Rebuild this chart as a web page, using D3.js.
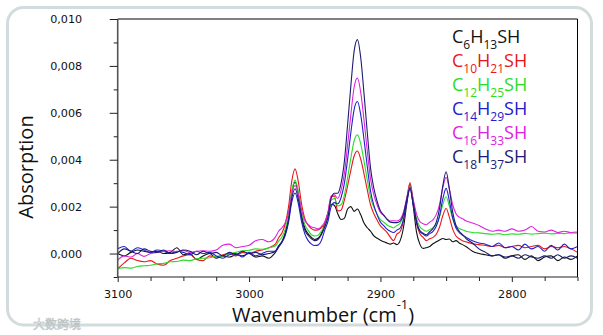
<!DOCTYPE html>
<html><head><meta charset="utf-8">
<script src="https://cdn.jsdelivr.net/npm/d3@7"></script>
<style>body{margin:0;background:#fff}svg{display:block}</style>
</head><body><svg id="c" width="603" height="335"></svg>
<script>
// wavenumber grid (cm-1)
const wavenumbers = [3100,3095,3090,3085,3080,3075,3070,3065,3060,3055,3050,3045,3040,3035,3030,3025,3020,3015,3010,3005,3000,2995,2990,2985,2980,
2977.5,2975,2972.5,2970,2967.5,2965,2962.5,2960,2957.5,2955,2952.5,2950,2947.5,2945,2942.5,2940,2937.5,2935,2932.5,2930,2927.5,2925,2922.5,2920,2917.5,2915,2912.5,2910,2907.5,2905,2902.5,2900,2897.5,2895,2892.5,2890,2887.5,2885,2882.5,2880,2877.5,2875,2872.5,2870,2867.5,2865,2862.5,2860,2857.5,2855,2852.5,2850,2847.5,2845,2842.5,2840,2837.5,
2835,2830,2825,2820,2815,2810,2805,2800,2795,2790,2785,2780,2775,2770,2765,2760,2755,2750];

// absorption values in units of 1e-3
const absC6 = [0.0,-0.1,0.05,0.15,0.1,0.05,0.1,0.0,0.05,0.25,-0.05,0.0,-0.25,-0.1,0.0,-0.2,-0.1,-0.15,-0.05,-0.1,0.0,-0.15,-0.1,-0.2,0.05,
0.27,0.5,0.88,1.57,2.59,3.05,2.55,1.66,1.08,0.84,0.69,0.6,0.65,0.85,1.25,1.7,2.1,2.05,1.7,1.45,1.5,1.9,2.0,1.8,1.9,1.65,1.3,1.1,0.95,0.75,0.65,0.57,0.5,0.45,0.4,0.45,0.38,0.55,1.1,2.1,2.95,2.0,0.9,0.4,0.22,0.25,0.3,0.42,0.5,0.58,0.64,0.6,0.62,0.5,0.55,0.45,0.38,
0.3,0.1,0.0,-0.05,-0.1,-0.05,-0.2,-0.1,-0.05,-0.25,-0.1,-0.3,-0.15,-0.1,-0.3,-0.15,-0.25,-0.1];
const absC10 = [-0.65,-0.4,-0.2,-0.3,-0.35,-0.3,-0.45,-0.5,-0.3,-0.2,-0.1,-0.05,-0.25,-0.3,-0.1,-0.15,-0.05,0.0,-0.1,0.05,0.0,0.1,0.15,0.25,0.4,
0.67,0.88,1.26,1.97,3.09,3.61,3.06,2.1,1.48,1.21,1.06,1.0,1.01,1.1,1.27,1.71,2.43,2.44,1.82,1.85,2.27,2.88,3.56,4.16,4.37,4.02,3.4,2.71,2.07,1.7,1.42,1.18,1.04,0.9,0.7,0.55,0.83,0.94,1.39,2.29,3.03,2.2,1.29,0.84,0.69,0.55,0.63,0.69,0.82,1.13,1.62,1.92,1.54,1.04,0.75,0.63,0.55,
0.5,0.42,0.38,0.35,0.3,0.35,0.25,0.3,0.35,0.25,0.3,0.35,0.2,0.3,0.25,0.3,0.2,0.05];
const absC12 = [-0.65,-0.6,-0.62,-0.55,-0.52,-0.5,-0.44,-0.42,-0.35,-0.34,-0.28,-0.3,-0.22,-0.2,-0.18,-0.12,-0.1,-0.02,0.05,0.12,0.14,0.2,0.18,0.24,0.32,
0.53,0.7,1.03,1.65,2.67,3.13,2.65,1.79,1.23,0.99,0.8,0.75,0.78,0.96,1.15,1.56,2.28,2.34,2.03,2.08,2.48,3.24,4.08,4.81,5.06,4.68,3.94,3.13,2.38,1.97,1.68,1.45,1.34,1.22,1.15,1.1,1.19,1.29,1.63,2.32,2.89,2.23,1.5,1.14,1.02,0.95,1.02,1.1,1.24,1.57,2.1,2.42,2.01,1.48,1.19,1.07,1.01,
0.95,0.9,0.88,0.85,0.82,0.85,0.8,0.84,0.82,0.86,0.83,0.85,0.87,0.84,0.86,0.85,0.88,0.87];
const absC14 = [0.2,0.3,0.1,0.25,0.15,0.05,0.15,0.1,0.0,0.1,0.05,-0.05,0.1,0.0,0.05,-0.1,-0.2,-0.05,0.0,-0.15,0.05,-0.1,0.0,0.1,0.1,
0.31,0.47,0.77,1.32,2.19,2.58,2.13,1.35,0.83,0.55,0.4,0.34,0.36,0.55,0.98,1.36,2.0,2.17,2.12,2.38,2.98,4.02,5.17,6.15,6.48,5.91,4.86,3.7,2.65,2.05,1.65,1.34,1.19,1.04,0.95,0.9,1.0,1.09,1.45,2.16,2.75,2.07,1.31,0.94,0.83,0.75,0.85,0.95,1.16,1.61,2.34,2.78,2.23,1.52,1.09,0.89,0.78,
0.7,0.55,0.45,0.4,0.3,0.45,0.25,0.3,0.15,0.4,0.2,0.3,0.1,0.35,0.15,0.4,0.2,0.3];
const absC16 = [-0.28,-0.1,-0.15,0.0,-0.12,0.0,0.05,0.1,0.12,0.08,0.13,0.05,0.1,0.12,0.1,0.15,0.35,0.4,0.25,0.3,0.35,0.55,0.6,0.5,0.7,
0.95,1.1,1.3,1.73,2.54,2.9,2.53,1.85,1.41,1.23,1.13,1.1,1.05,1.15,1.34,1.75,2.45,2.5,2.35,2.69,3.39,4.62,5.94,7.1,7.48,6.87,5.68,4.36,3.17,2.5,2.07,1.75,1.62,1.48,1.39,1.4,1.39,1.46,1.76,2.36,2.85,2.29,1.67,1.36,1.27,1.23,1.34,1.44,1.66,2.1,2.81,3.25,2.75,2.08,1.7,1.55,1.48,
1.4,1.3,1.2,1.05,0.95,1.0,0.95,1.05,0.95,1.0,1.15,0.95,0.92,1.0,0.9,0.95,0.9,0.92];
const absC18 = [0.0,0.2,0.1,0.0,0.2,0.1,0.05,0.15,0.0,0.05,0.15,0.1,-0.05,0.1,0.0,0.05,-0.1,0.05,-0.05,0.1,0.0,0.05,-0.05,0.0,0.1,
0.33,0.51,0.82,1.42,2.35,2.76,2.31,1.51,0.99,0.77,0.63,0.55,0.6,0.8,1.12,1.54,2.35,2.57,2.57,2.99,3.91,5.49,7.17,8.64,9.12,8.35,6.82,5.15,3.63,2.78,2.22,1.82,1.64,1.46,1.34,1.32,1.32,1.38,1.67,2.29,2.8,2.12,1.37,0.98,0.87,0.8,0.93,1.07,1.34,1.93,2.9,3.49,2.74,1.77,1.2,0.95,0.81,
0.65,0.45,0.2,0.05,-0.1,-0.05,-0.15,-0.1,-0.2,-0.05,-0.15,-0.2,-0.1,-0.2,-0.05,-0.2,-0.1,-0.2];

const seriesCarbon = ["6","10","12","14","16","18"];
const seriesHydrogen = ["13","21","25","29","33","37"];
const seriesColors = ["#111111","#e8161c","#2bdc2b","#2020cc","#de22de","#1c1c72"];

const yMajorTicks = [0,2,4,6,8,10];
const yTickLabels = ["0,000","0,002","0,004","0,006","0,008","0,010"];
const yMinorTicks = [-1,1,3,5,7,9];
const xMajorTicks = [3100,3000,2900,2800];
const xTickLabels = ["3100","3000","2900","2800"];
const xMinorTicks = [3075,3050,3025,2975,2950,2925,2875,2850,2825,2775,2750];

const series = [absC6,absC10,absC12,absC14,absC16,absC18];

const svg = d3.select("#c");
const L = 117.7, T = 19, R = 577.5, B = 277;
const x = d3.scaleLinear().domain([3100,2750]).range([L,R]);
const y = d3.scaleLinear().domain([-1,10]).range([B,T]);

// outer rounded frame
svg.append("rect").attr("x",7.5).attr("y",7.5).attr("width",584).attr("height",317.5)
  .attr("rx",16).attr("fill","none").attr("stroke","#d3dcdc").attr("stroke-width",3);

svg.append("defs").append("clipPath").attr("id","clip")
  .append("rect").attr("x",L).attr("y",T).attr("width",R-L).attr("height",B-T);

const line = d3.line().x((d,i)=>x(wavenumbers[i])).y(d=>y(d)).curve(d3.curveMonotoneX);
const g = svg.append("g").attr("clip-path","url(#clip)");
series.forEach((s,k)=>{
  g.append("path").attr("d",line(s)).attr("fill","none")
   .attr("stroke",seriesColors[k]).attr("stroke-width",1.1).attr("stroke-linejoin","round");
});

// frame lines
svg.append("line").attr("x1",L).attr("x2",R).attr("y1",T).attr("y2",T).attr("stroke","#000").attr("stroke-width",1);
svg.append("line").attr("x1",R).attr("x2",R).attr("y1",T).attr("y2",B).attr("stroke","#000").attr("stroke-width",1);

// y axis
const yAx = svg.append("g").attr("transform",`translate(${L},0)`)
  .call(d3.axisLeft(y).tickValues(yMajorTicks).tickSize(8).tickPadding(27.5)
    .tickFormat((d,i)=>yTickLabels[i]));
const yAxMin = svg.append("g").attr("transform",`translate(${L},0)`)
  .call(d3.axisLeft(y).tickValues(yMinorTicks).tickSize(4).tickFormat(""));
yAxMin.select(".domain").remove();
// x axis
const xAx = svg.append("g").attr("transform",`translate(0,${B})`)
  .call(d3.axisBottom(x).tickValues(xMajorTicks).tickSize(5).tickPadding(8)
    .tickFormat((d,i)=>xTickLabels[i]));
const xAxMin = svg.append("g").attr("transform",`translate(0,${B})`)
  .call(d3.axisBottom(x).tickValues(xMinorTicks).tickSize(4).tickFormat(""));
xAxMin.select(".domain").remove();
svg.selectAll(".domain").attr("stroke","#222").attr("stroke-width",1.2);
svg.selectAll(".tick line").attr("stroke","#222");
svg.selectAll(".tick text").attr("font-family","'DejaVu Sans', Verdana, sans-serif")
  .attr("font-size",11.2).attr("fill","#111");
yAx.select(".domain").attr("d",`M0,${B}V${T}`).attr("stroke","#555").attr("stroke-width",1.6);
xAx.select(".domain").attr("d",`M${L},0H${R}`);

// axis titles
svg.append("text").attr("transform","translate(33,167) rotate(-90)")
  .attr("text-anchor","middle").attr("font-family","'Open Sans', sans-serif")
  .attr("font-size",20).attr("fill","#111").text("Absorption");
const xt = svg.append("text").attr("x",232).attr("y",322)
  .attr("font-family","'Open Sans', sans-serif").attr("font-size",20).attr("fill","#111");
xt.append("tspan").text("Wavenumber (cm");
xt.append("tspan").attr("dy",-13).attr("font-size",13).text("-1");
xt.append("tspan").attr("dy",13).text(")");

// legend
const legY = [43,66.5,90.5,114.5,139,163];
seriesCarbon.forEach((c,k)=>{
  const t = svg.append("text").attr("x",452).attr("y",legY[k])
    .attr("font-family","'Open Sans', sans-serif").attr("font-size",18).attr("fill",seriesColors[k]);
  t.append("tspan").text("C");
  t.append("tspan").attr("dy",6).attr("font-size",12).text(c);
  t.append("tspan").attr("dy",-6).text("H");
  t.append("tspan").attr("dy",6).attr("font-size",12).text(seriesHydrogen[k]);
  t.append("tspan").attr("dy",-6).text("SH");
});

// watermark
svg.append("text").attr("x",33).attr("y",329).attr("font-family","'Noto Sans CJK SC', sans-serif")
  .attr("font-size",12).attr("fill","#f2f4f4").attr("stroke","#b4bcbc").attr("stroke-width",0.5)
  .text("大数跨境");
</script>
</body></html>
